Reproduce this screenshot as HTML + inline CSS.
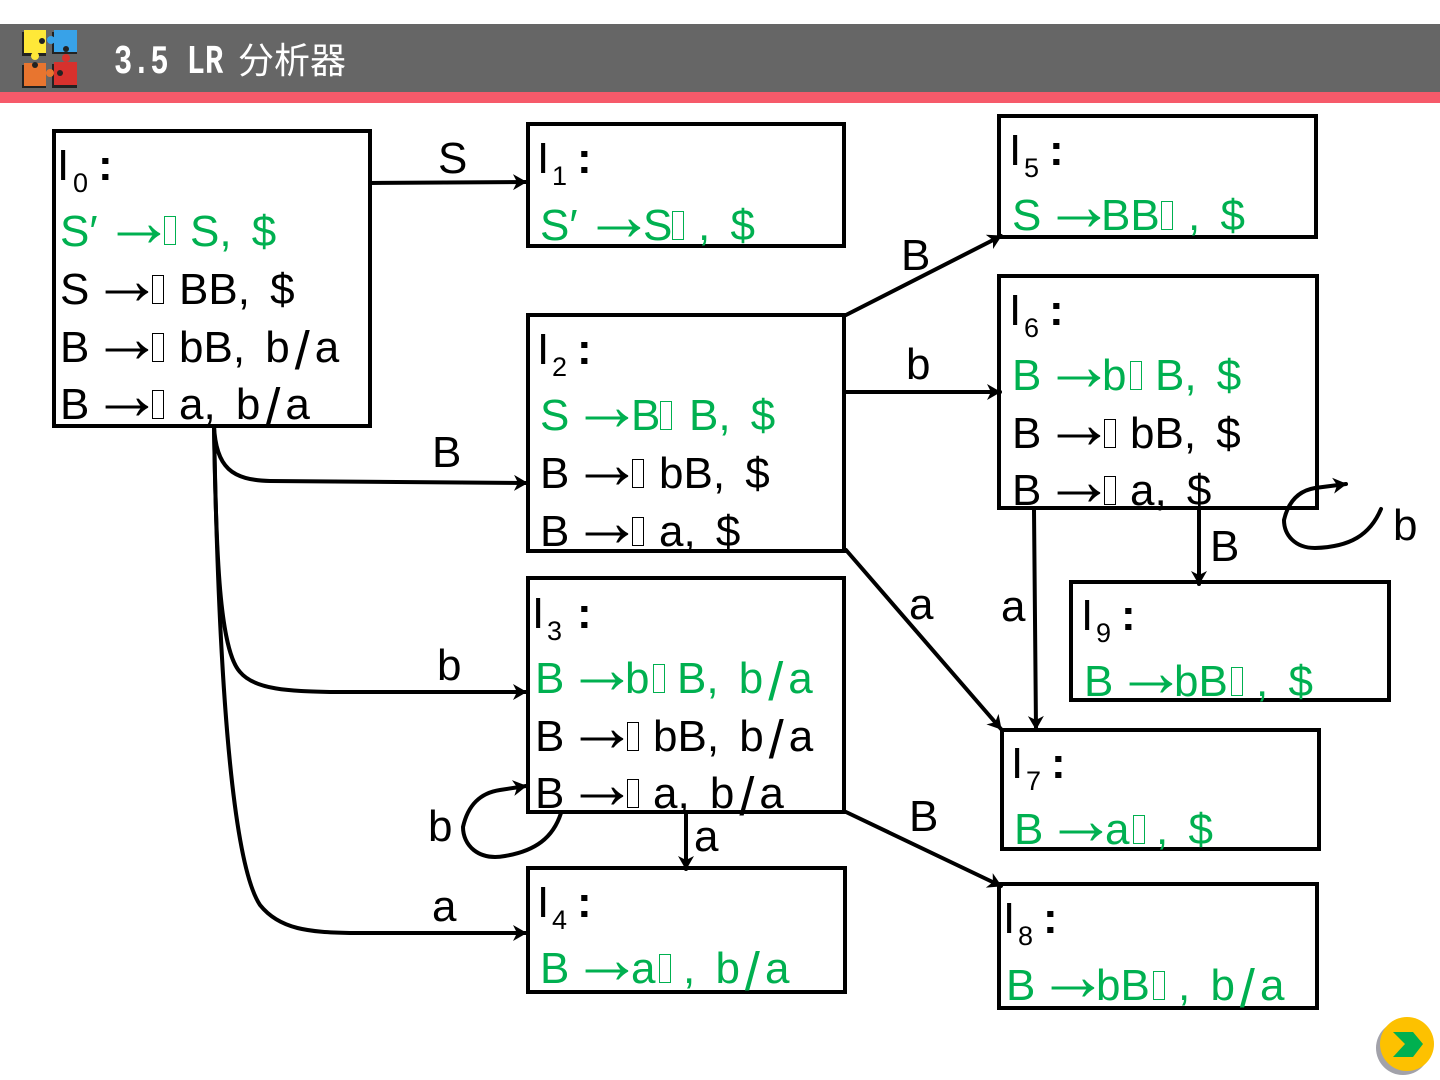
<!DOCTYPE html>
<html><head><meta charset="utf-8"><style>
html,body{margin:0;padding:0;background:#fff}
svg{display:block}
text{font-family:"Liberation Sans","Noto Sans CJK SC",sans-serif;font-size:44px;fill:#000;word-spacing:8px}
tspan.l{font-size:54px}
.g text{fill:#00b050}
.g .t{stroke:#00b050}
.t{fill:none;stroke:#000;stroke-width:1}
text.s{font-size:27px}
text.a{font-size:72px}
text.c{font-weight:bold}
.box{fill:none;stroke:#000;stroke-width:4}
.e{fill:none;stroke:#000;stroke-width:4;stroke-linecap:round;marker-end:url(#h)}
</style></head><body>
<svg width="1440" height="1080" viewBox="0 0 1440 1080" xmlns="http://www.w3.org/2000/svg">
<defs><marker id="h" markerUnits="userSpaceOnUse" markerWidth="18" markerHeight="20" refX="14" refY="9" orient="auto"><path d="M1,1 L15,9 L1,17 L5,9 z" fill="#000"/></marker></defs>
<rect width="1440" height="1080" fill="#fff"/>
<rect x="0" y="24" width="1440" height="68" fill="#666"/>
<rect x="0" y="92" width="1440" height="11" fill="#f65a6a"/>
<!-- logo -->
<rect x="22" y="32" width="24" height="24" fill="#222"/>
<rect x="52" y="32" width="25" height="22" fill="#222"/>
<rect x="22" y="65" width="24" height="23" fill="#222"/>
<rect x="52" y="64" width="25" height="24" fill="#222"/>
<rect x="24" y="30" width="22" height="23" fill="#ffe838"/>
<rect x="54" y="30" width="23" height="22" fill="#38a2e8"/>
<rect x="24" y="63" width="22" height="23" fill="#e8752f"/>
<rect x="54" y="62" width="23" height="23" fill="#d7312d"/>
<circle cx="35" cy="56" r="4" fill="#ffe838"/><circle cx="51" cy="40" r="4" fill="#38a2e8"/><circle cx="50" cy="73" r="4" fill="#e8752f"/><circle cx="66" cy="58" r="4" fill="#d7312d"/>
<circle cx="42" cy="41" r="3" fill="#222"/><circle cx="66" cy="49" r="3" fill="#222"/><circle cx="35" cy="65" r="3" fill="#222"/><circle cx="60" cy="73" r="3" fill="#222"/>
<text transform="translate(114 73) scale(0.74 1)" style="font-family:'Liberation Mono',monospace;font-size:41px;font-weight:bold;fill:#fff;word-spacing:0">3.5 LR</text>
<text x="238" y="73" style="font-family:'Noto Sans CJK SC',sans-serif;font-size:36px;fill:#fff">分析器</text>

<!-- edges -->
<path class="e" d="M370 183 L526 182"/>
<path class="e" d="M214 426 C216 468 232 480 270 481 L527 483"/>
<path class="e" d="M214 426 C216 560 220 650 240 672 C255 690 290 691 330 692 L526 692"/>
<path class="e" d="M214 426 C218 650 230 860 260 905 C280 930 310 932 350 933 L526 933"/>
<path class="e" d="M561 813 C553 838 535 851 505 856 C478 861 463 845 463 827 C468 805 480 793 500 790 L526 786"/>
<path class="e" d="M846 315 L1001 236"/>
<path class="e" d="M846 392 L1000 392"/>
<path class="e" d="M846 550 L1001 729"/>
<path class="e" d="M1034 510 L1036 729"/>
<path class="e" d="M1199 508 L1199 584"/>
<path class="e" d="M686 812 L686 869"/>
<path class="e" d="M846 812 L1001 886"/>
<path class="e" d="M1381 509 C1370 535 1350 547 1315 548 C1295 548 1284 535 1284 520 C1288 503 1297 491 1315 488 L1346 484"/>

<!-- boxes -->
<rect class="box" x="54" y="131" width="316" height="295"/>
<rect class="box" x="528" y="124" width="316" height="122"/>
<rect class="box" x="528" y="315" width="316" height="236"/>
<rect class="box" x="528" y="578" width="316" height="234"/>
<rect class="box" x="528" y="868" width="317" height="124"/>
<rect class="box" x="999" y="116" width="317" height="121"/>
<rect class="box" x="999" y="276" width="318" height="232"/>
<rect class="box" x="1002" y="730" width="317" height="119"/>
<rect class="box" x="999" y="884" width="318" height="124"/>
<rect class="box" x="1071" y="582" width="318" height="118"/>

<!-- I0 -->
<text x="57" y="180">I</text><text class="s" x="73" y="192">0</text><text class="c" x="98" y="180">:</text>
<g class="g"><text x="60" y="246">S′</text><text class="a" x="103" y="246">→</text><rect class="t" x="164.500" y="216.500" width="11" height="28"/><text x="190" y="246">S, $</text></g>
<text x="60" y="304">S</text><text class="a" x="91" y="304">→</text><rect class="t" x="152.500" y="275.500" width="11" height="28"/><text x="179" y="304">BB, $</text>
<text x="60" y="362">B</text><text class="a" x="91" y="362">→</text><rect class="t" x="152.500" y="333.500" width="11" height="28"/><text x="179" y="362">bB, b<tspan class="l" dx="5" dy="7">/</tspan><tspan dx="5" dy="-7">a</tspan></text>
<text x="60" y="419">B</text><text class="a" x="91" y="419">→</text><rect class="t" x="152.500" y="390.500" width="11" height="28"/><text x="179" y="419">a, b<tspan class="l" dx="5" dy="7">/</tspan><tspan dx="5" dy="-7">a</tspan></text>

<!-- I1 -->
<text x="537" y="173">I</text><text class="s" x="552" y="185">1</text><text class="c" x="577" y="173">:</text>
<g class="g"><text x="540" y="240">S′</text><text class="a" x="583" y="240">→</text><text x="643" y="240">S</text><rect class="t" x="672.500" y="211.500" width="11" height="28"/><text x="698" y="240">, $</text></g>

<!-- I2 -->
<text x="537" y="364">I</text><text class="s" x="552" y="376">2</text><text class="c" x="577" y="364">:</text>
<g class="g"><text x="540" y="430">S</text><text class="a" x="571" y="430">→</text><text x="631" y="430">B</text><rect class="t" x="660.500" y="401.500" width="11" height="28"/><text x="689" y="430">B, $</text></g>
<text x="540" y="488">B</text><text class="a" x="571" y="488">→</text><rect class="t" x="632.500" y="459.500" width="11" height="28"/><text x="659" y="488">bB, $</text>
<text x="540" y="546">B</text><text class="a" x="571" y="546">→</text><rect class="t" x="632.500" y="517.500" width="11" height="28"/><text x="659" y="546">a, $</text>

<!-- I3 -->
<text x="532" y="628">I</text><text class="s" x="547" y="640">3</text><text class="c" x="577" y="628">:</text>
<g class="g"><text x="535" y="693">B</text><text class="a" x="566" y="693">→</text><text x="625" y="693">b</text><rect class="t" x="653.500" y="664.500" width="11" height="28"/><text x="677" y="693">B, b<tspan class="l" dx="5" dy="7">/</tspan><tspan dx="5" dy="-7">a</tspan></text></g>
<text x="535" y="751">B</text><text class="a" x="566" y="751">→</text><rect class="t" x="627.500" y="722.500" width="11" height="28"/><text x="653" y="751">bB, b<tspan class="l" dx="5" dy="7">/</tspan><tspan dx="5" dy="-7">a</tspan></text>
<text x="535" y="808">B</text><text class="a" x="566" y="808">→</text><rect class="t" x="627.500" y="779.500" width="11" height="28"/><text x="653" y="808">a, b<tspan class="l" dx="5" dy="7">/</tspan><tspan dx="5" dy="-7">a</tspan></text>

<!-- I4 -->
<text x="537" y="917">I</text><text class="s" x="552" y="929">4</text><text class="c" x="577" y="917">:</text>
<g class="g"><text x="540" y="983">B</text><text class="a" x="571" y="983">→</text><text x="631" y="983">a</text><rect class="t" x="659.500" y="954.500" width="11" height="28"/><text x="683" y="983">, b<tspan class="l" dx="5" dy="7">/</tspan><tspan dx="5" dy="-7">a</tspan></text></g>

<!-- I5 -->
<text x="1009" y="165">I</text><text class="s" x="1024" y="177">5</text><text class="c" x="1049" y="165">:</text>
<g class="g"><text x="1012" y="230">S</text><text class="a" x="1043" y="230">→</text><text x="1101" y="230">BB</text><rect class="t" x="1161.500" y="201.500" width="11" height="28"/><text x="1188" y="230">, $</text></g>

<!-- I6 -->
<text x="1009" y="325">I</text><text class="s" x="1024" y="337">6</text><text class="c" x="1049" y="325">:</text>
<g class="g"><text x="1012" y="390">B</text><text class="a" x="1043" y="390">→</text><text x="1102" y="390">b</text><rect class="t" x="1130.500" y="361.500" width="11" height="28"/><text x="1155" y="390">B, $</text></g>
<text x="1012" y="448">B</text><text class="a" x="1043" y="448">→</text><rect class="t" x="1104.500" y="419.500" width="11" height="28"/><text x="1130" y="448">bB, $</text>
<text x="1012" y="505">B</text><text class="a" x="1043" y="505">→</text><rect class="t" x="1104.500" y="476.500" width="11" height="28"/><text x="1130" y="505">a, $</text>

<!-- I7 -->
<text x="1011" y="778">I</text><text class="s" x="1026" y="790">7</text><text class="c" x="1051" y="778">:</text>
<g class="g"><text x="1014" y="844">B</text><text class="a" x="1045" y="844">→</text><text x="1105" y="844">a</text><rect class="t" x="1133.500" y="815.500" width="11" height="28"/><text x="1156" y="844">, $</text></g>

<!-- I8 -->
<text x="1003" y="933">I</text><text class="s" x="1018" y="945">8</text><text class="c" x="1043" y="933">:</text>
<g class="g"><text x="1006" y="1000">B</text><text class="a" x="1037" y="1000">→</text><text x="1096" y="1000">bB</text><rect class="t" x="1153.500" y="971.500" width="11" height="28"/><text x="1178" y="1000">, b<tspan class="l" dx="5" dy="7">/</tspan><tspan dx="5" dy="-7">a</tspan></text></g>

<!-- I9 -->
<text x="1081" y="630">I</text><text class="s" x="1096" y="642">9</text><text class="c" x="1121" y="630">:</text>
<g class="g"><text x="1084" y="696">B</text><text class="a" x="1115" y="696">→</text><text x="1174" y="696">bB</text><rect class="t" x="1231.500" y="667.500" width="11" height="28"/><text x="1256" y="696">, $</text></g>

<!-- edge labels -->
<text x="438" y="173">S</text>
<text x="432" y="467">B</text>
<text x="437" y="680">b</text>
<text x="428" y="841">b</text>
<text x="432" y="921">a</text>
<text x="694" y="851">a</text>
<text x="901" y="270">B</text>
<text x="906" y="379">b</text>
<text x="909" y="619">a</text>
<text x="1001" y="621">a</text>
<text x="1210" y="561">B</text>
<text x="1393" y="540">b</text>
<text x="909" y="831">B</text>

<!-- nav button -->
<circle cx="1403" cy="1048" r="27" fill="#a2a2aa"/>
<circle cx="1407" cy="1044" r="27" fill="#fdc100"/>
<polygon points="1393,1032 1413,1032 1423,1044 1413,1057 1393,1057 1405,1044" fill="#00b050"/>
</svg>
</body></html>
